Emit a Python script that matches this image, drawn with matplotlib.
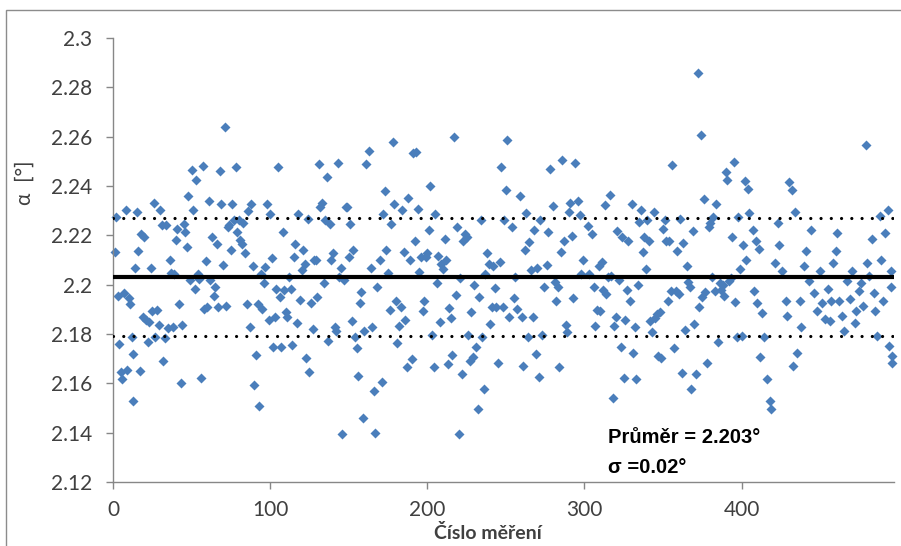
import matplotlib
matplotlib.use("Agg")
import matplotlib.pyplot as plt
from matplotlib.patches import Rectangle

# ---------------- data ----------------
meas_no = (
    list(range(1, 14)) + [13] + list(range(14, 48))
    + list(range(48, 100))
    + list(range(100, 149))
    + list(range(149, 162)) + list(range(163, 169)) + list(range(170, 200))
    + list(range(200, 253))
    + [254, 255, 256, 257, 259, 260, 261, 262, 263, 264, 265, 266, 267, 268, 269, 270,
       271, 272, 273, 274, 276, 277, 278, 280, 281, 282, 283, 284, 285, 286, 287, 288,
       289, 290, 291, 292, 293, 294, 296, 297, 298, 299]
    + [302, 303] + list(range(305, 354))
    + list(range(354, 405))
    + [405, 407, 408, 409, 410, 411, 412, 413, 414, 416, 418, 419, 421, 423, 424, 426,
       428, 429, 430, 432, 433, 434, 435, 437, 438, 440, 441, 443, 444, 446, 448, 450,
       451, 453, 455, 456, 457, 458, 460, 461, 462, 464, 465, 467, 469, 470, 472, 473,
       475, 476, 477, 479, 480, 481, 483, 484, 485, 486, 488, 489, 490, 491, 493, 494,
       495, 496, 496, 495]
)

alpha = [
    # 1..47
    2.2132, 2.2274, 2.1955, 2.1759, 2.1644, 2.1617, 2.1965, 2.2304, 2.1654, 2.1946,
    2.1922, 2.1789, 2.1718, 2.1529, 2.2068, 2.2294, 2.2136, 2.1651, 2.2206, 2.1870,
    2.2193, 2.1857, 2.1766, 2.1847, 2.2068, 2.1892, 2.2331, 2.1786, 2.1897, 2.1836,
    2.2304, 2.2240, 2.1691, 2.1784, 2.2240, 2.1824, 2.2101, 2.2046, 2.1827, 2.2044,
    2.2183, 2.2227, 2.1922, 2.1603, 2.1836, 2.2247, 2.2213, 2.2152,
    # 48..99
    2.2358, 2.2017, 2.2464, 2.2304, 2.1983, 2.2426, 2.2044, 2.2023, 2.1621, 2.2480,
    2.1901, 2.2094, 2.1908, 2.2339, 2.2017, 2.2193, 2.1956, 2.1990, 2.2166, 2.1908,
    2.2460, 2.2326, 2.2080, 2.2640, 2.1915, 2.2233, 2.2240, 2.2141, 2.2326, 2.2263,
    2.2475, 2.2213, 2.2261, 2.2182, 2.2163, 2.2251, 2.2128, 2.1922, 2.2299, 2.1830,
    2.2328, 2.2074, 2.1594, 2.1716, 2.1922, 2.1509, 2.2044, 2.1901, 2.2006, 2.2071,
    2.2328, 2.1857,
    # 100..148
    2.2285, 2.2109, 2.1748, 2.1868, 2.1983, 2.2475, 2.1949, 2.1748, 2.2213, 2.1979,
    2.1888, 2.1870, 2.2030, 2.1983, 2.1756, 2.2114, 2.2163, 2.1843, 2.2285, 2.1938,
    2.2060, 2.2139, 2.2084, 2.1702, 2.2267, 2.1644, 2.1925, 2.1820, 2.2098, 2.2098,
    2.1949, 2.2488, 2.2315, 2.2331, 2.2006, 2.2261, 2.2437, 2.1773, 2.2244, 2.2101,
    2.2128, 2.1827, 2.1811, 2.2495, 2.2030, 2.2068, 2.1396, 2.2019, 2.2315,
    # 149..199
    2.2315, 2.2112, 2.2247, 2.1851, 2.2139, 2.1789, 2.1743, 2.1630, 2.1925, 2.1969,
    2.1461, 2.1811, 2.2488, 2.2542, 2.2068, 2.1827, 2.1567, 2.1400, 2.1990, 2.2101,
    2.1607, 2.2285, 2.2380, 2.2139, 2.2046, 2.1897, 2.2247, 2.2579, 2.2326, 2.1935,
    2.1762, 2.1834, 2.1911, 2.2301, 2.2132, 2.1857, 2.1667, 2.2353, 2.2098, 2.1698,
    2.2534, 2.2179, 2.2538, 2.2308, 2.2051, 2.2112, 2.1892, 2.1933, 2.2112,
    # 200..252
    2.2128, 2.2220, 2.2399, 2.1797, 2.1667, 2.2285, 2.2006, 2.2118, 2.1847, 2.2082,
    2.2064, 2.2186, 2.2098, 2.1678, 2.1906, 2.1865, 2.1716, 2.2597, 2.1960, 2.2233,
    2.1396, 2.2028, 2.1637, 2.2179, 2.2206, 2.2193, 2.1797, 2.1691, 2.1888, 2.1708,
    2.2000, 2.1748, 2.1495, 2.1949, 2.2263, 2.1786, 2.1576, 2.2044, 2.2128, 2.2082,
    2.1840, 2.1911, 2.2074, 2.1987, 2.1911, 2.1681, 2.2091, 2.2475, 2.1911, 2.2261,
    2.2383, 2.2588, 2.1868,
    # 254..299
    2.2233, 2.1946, 2.2030, 2.1901, 2.2358, 2.1870, 2.1671, 2.2141, 2.2290, 2.1789,
    2.2172, 2.2060, 2.1868, 2.2223, 2.1719, 2.2068, 2.1627, 2.2263, 2.1797, 2.1990,
    2.2078, 2.2213, 2.2467, 2.2317, 2.2010, 2.1933, 2.1990, 2.1667, 2.2132, 2.2507,
    2.2179, 2.1838, 2.1807, 2.2294, 2.2331, 2.2196, 2.1946, 2.2494, 2.2339, 2.2281,
    2.2044, 2.2098,
    # 302..353
    2.2236, 2.2044, 2.2206, 2.1990, 2.1834, 2.1897, 2.2074, 2.1892, 2.2091, 2.1979,
    2.2322, 2.1962, 2.2033, 2.2362, 2.2037, 2.1542, 2.1834, 2.1868, 2.2217, 2.2017,
    2.1748, 2.2193, 2.1621, 2.1857, 2.1979, 2.2177, 2.1933, 2.2326, 2.1725, 2.1830,
    2.1617, 2.2000, 2.2254, 2.2304, 2.2132, 2.2193, 2.2064, 2.2261, 2.2179, 2.1854,
    2.1807, 2.2294, 2.1865, 2.1881, 2.1712, 2.1888, 2.1702, 2.2227, 2.2261, 2.2179,
    2.1935,
    # 354..404
    2.2179, 2.1976, 2.2484, 2.1743, 2.1976, 2.2136, 2.1962, 2.2267, 2.1640, 2.2168,
    2.1816, 2.2074, 2.2010, 2.1992, 2.1576, 2.2217, 2.1840, 2.1637, 2.2860, 2.1908,
    2.2606, 2.1949, 2.2349, 2.1969, 2.1681, 2.2233, 2.2250, 2.2033, 2.2274, 2.1976,
    2.2328, 2.1766, 2.2006, 2.1979, 2.2000, 2.1955, 2.2457, 2.2426, 2.2014, 2.2028,
    2.2193, 2.2498, 2.1929, 2.1789, 2.2274, 2.2064, 2.1793, 2.2159, 2.2420, 2.2098,
    2.2389,
    # 405..496
    2.2289, 2.2220, 2.1976, 2.2179, 2.1927, 2.2146, 2.1707, 2.1886, 2.1789, 2.1618,
    2.1528, 2.1496, 2.2089, 2.2252, 2.2159, 2.2057, 2.1935, 2.1874, 2.2415, 2.2382,
    2.1671, 2.2293, 2.1724, 2.1935, 2.1829, 2.2077, 2.2138, 2.2016, 2.2220, 2.1967,
    2.1894, 2.2057, 2.1927, 2.1862, 2.1984, 2.1854, 2.1935, 2.2089, 2.2138, 2.2211,
    2.1935, 2.1874, 2.1813, 2.2016, 2.1943, 2.2057, 2.1846, 2.1894, 2.1976, 2.2008,
    2.1915, 2.2565, 2.2089, 2.2037, 2.2187, 2.1967, 2.1894, 2.1793, 2.2280, 2.2098,
    2.1935, 2.2211, 2.2301, 2.1752, 2.1992, 2.1711, 2.1683, 2.2057,
]

mean_value = 2.203
band_half_width = 0.024
y_ticks = [2.12, 2.14, 2.16, 2.18, 2.20, 2.22, 2.24, 2.26, 2.28, 2.30]
y_tick_labels = ["2.12", "2.14", "2.16", "2.18", "2.2", "2.22", "2.24", "2.26", "2.28", "2.3"]
x_ticks = [0, 100, 200, 300, 400]
x_tick_labels = ["0", "100", "200", "300", "400"]
x_range = (0, 497)
y_range = (2.12, 2.30)

x_title = "Číslo měření"
y_title = "α  [°]"
note_line1 = "Průměr = 2.203°"
note_line2 = "σ =0.02°"

# ---------------- figure ----------------
W, H = 901, 546
fig = plt.figure(figsize=(W / 100, H / 100), dpi=100)
fig.patch.set_facecolor("white")

# chart-area frame (left and top edges visible)
fig.patches.append(Rectangle((6 / W, -0.1), 2.0, 1.1 - 10 / H, transform=fig.transFigure,
                             fill=False, ec="#8c8c8c", lw=1.0))

ax = fig.add_axes([113 / W, 1 - 482 / H, (894 - 113) / W, (482 - 38) / H])
ax.set_xlim(*x_range)
ax.set_ylim(*y_range)

ax.plot(meas_no, alpha, linestyle="none", marker="D", ms=4.7, color="#4A7EBB",
        mec="none", zorder=2, clip_on=False)

ax.axhline(mean_value, color="black", lw=3.0, zorder=3)
for yv in (mean_value + band_half_width, mean_value - band_half_width):
    ax.axhline(yv, color="black", lw=2.3, linestyle=(0, (0.01, 3.2)),
               dash_capstyle="round", zorder=3)

for s in ("top", "right"):
    ax.spines[s].set_visible(False)
for s in ("left", "bottom"):
    ax.spines[s].set_color("#878787")
    ax.spines[s].set_linewidth(1.0)

ax.set_yticks(y_ticks)
ax.set_yticklabels(y_tick_labels)
ax.set_xticks(x_ticks)
ax.set_xticklabels(x_tick_labels)
ax.tick_params(axis="both", direction="out", length=5, width=1.0, color="#878787",
               labelsize=15, labelcolor="#404040")
ax.tick_params(axis="y", pad=10)
ax.tick_params(axis="x", pad=8)
for lab in ax.get_xticklabels() + ax.get_yticklabels():
    lab.set_family("Lato")

fig.text(25 / W, 1 - 183 / H, y_title, rotation=90, ha="center", va="center",
         fontsize=15, color="#404040", family="Lato")
fig.text(488 / W, 1 - 539 / H, x_title, ha="center", va="baseline",
         fontsize=14, fontweight="bold", color="#404040", family="Lato")

fig.text(608 / W, 1 - 443 / H, note_line1, ha="left", va="baseline",
         fontsize=14.5, fontweight="bold", color="black", family="Liberation Sans")
fig.text(608 / W, 1 - 473 / H, note_line2, ha="left", va="baseline",
         fontsize=14.5, fontweight="bold", color="black", family="Liberation Sans")

fig.savefig("out.png", dpi=100, facecolor="white")
